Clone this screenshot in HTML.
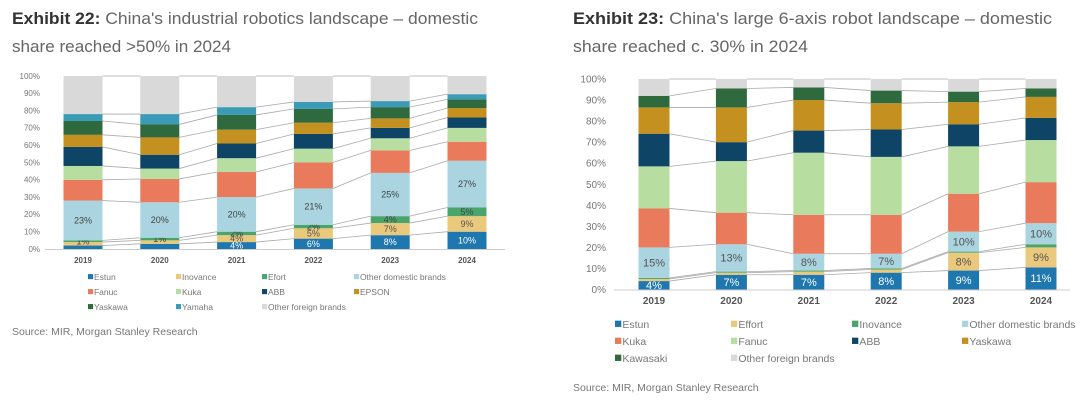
<!DOCTYPE html>
<html><head><meta charset="utf-8">
<style>
html,body{margin:0;padding:0;background:#fff;}
body{width:1080px;height:406px;overflow:hidden;font-family:"Liberation Sans",sans-serif;}
svg{position:absolute;left:0;top:0;}
</style></head>
<body>
<svg id="svg" width="1080" height="406" viewBox="0 0 1080 406">
  <text x="12" y="24" font-size="17" fill="#666" textLength="466" lengthAdjust="spacingAndGlyphs"><tspan font-weight="bold" fill="#333">Exhibit 22:</tspan>  China's industrial robotics landscape – domestic</text>
  <text x="12" y="52" font-size="17" fill="#666" textLength="219" lengthAdjust="spacingAndGlyphs">share reached &gt;50% in 2024</text>
  <text x="573" y="24" font-size="17" fill="#666" textLength="479" lengthAdjust="spacingAndGlyphs"><tspan font-weight="bold" fill="#333">Exhibit 23:</tspan>  China's large 6-axis robot landscape – domestic</text>
  <text x="573" y="52" font-size="17" fill="#666" textLength="235" lengthAdjust="spacingAndGlyphs">share reached c. 30% in 2024</text>
  <text x="12" y="335" font-size="10.5" fill="#777">Source: MIR, Morgan Stanley Research</text>
  <text x="573" y="391" font-size="10.5" fill="#777">Source: MIR, Morgan Stanley Research</text>
</svg>
<script>
// ---- Left chart data (Exhibit 22) ----
const leftYears = ["2019","2020","2021","2022","2023","2024"];
const leftSeriesNames = ["Estun","Inovance","Efort","Other domestic brands","Fanuc","Kuka","ABB","EPSON","Yaskawa","Yamaha","Other foreign brands"];
const leftEstun = [2,3,4,6,8,10];
const leftInovance = [2,2,4,6,7,9];
const leftEfort = [1,1.5,2,2,4,5];
const leftOtherDomestic = [23,20.5,20,21,25,27];
const leftFanuc = [12,13.5,14.5,15,13,11];
const leftKuka = [8,6,8,8,7,8];
const leftABB = [11,8,8.5,8.5,6,6];
const leftEpson = [7,10,8,6.5,5.5,5.5];
const leftYaskawa = [8,7.5,8.5,8,6.5,5];
const leftYamaha = [4,6,4.5,4,3.5,3];
const leftOtherForeign = [22,22,18,15,14.5,10.5];
const leftLabelEstun = ["","","4%","6%","8%","10%"];
const leftLabelInovance = ["","","4%","5%","7%","9%"];
const leftLabelEfort = ["1%","1%","2%","2%","4%","5%"];
const leftLabelOtherDomestic = ["23%","20%","20%","21%","25%","27%"];
const leftTicks = ["0%","10%","20%","30%","40%","50%","60%","70%","80%","90%","100%"];

// ---- Right chart data (Exhibit 23) ----
const rightYears = ["2019","2020","2021","2022","2023","2024"];
const rightSeriesNames = ["Estun","Effort","Inovance","Other domestic brands","Kuka","Fanuc","ABB","Yaskawa","Kawasaki","Other foreign brands"];
const rightEstun = [4,7,7,8,9,10.5];
const rightEffort = [1,1,1.5,1.5,8.5,9.5];
const rightInovance = [0.5,0.5,0.5,0.5,0.5,1.5];
const rightOtherDomestic = [14.5,13,8,7,9.5,10];
const rightKuka = [18.5,15,18.5,18.5,18,19.5];
const rightFanuc = [20,24.5,29.5,27.5,22.5,20];
const rightABB = [15.5,9,10.5,13,10.5,10.5];
const rightYaskawa = [12.5,16.5,14.5,12.5,10.5,10];
const rightKawasaki = [5.5,9,6,6,5,4];
const rightOtherForeign = [8,4.5,4,5.5,6,4.5];
const rightLabelEstun = ["4%","7%","7%","8%","9%","11%"];
const rightLabelEffort = ["","","","","8%","9%"];
const rightLabelOtherDomestic = ["15%","13%","8%","7%","10%","10%"];
const rightTicks = ["0%","10%","20%","30%","40%","50%","60%","70%","80%","90%","100%"];

const C = {blue:"#1f77b0",tan:"#eac87c",green:"#4aa56c",lb:"#a9d4e0",coral:"#e97a5c",lg:"#b7dea0",navy:"#0e4466",gold:"#c4901f",dg:"#2f6a3e",teal:"#3b9ab6",gray:"#d9d9d9"};
const NS="http://www.w3.org/2000/svg";
const svg=document.getElementById('svg');
function mk(tag,attrs,parent){const e=document.createElementNS(NS,tag);for(const k in attrs)e.setAttribute(k,attrs[k]);(parent||svg).appendChild(e);return e;}

function drawChart(cfg){
  const g=mk('g',{});
  
  
  const y=v=>cfg.y0-(v/100)*(cfg.y0-cfg.y100);
  const x=i=>cfg.xc0+i*cfg.step;
  cfg.ticks.forEach((t,i)=>{
    const tx=mk('text',{x:cfg.tickX,y:y(i*10)+cfg.fs*0.35,'font-size':cfg.fs,fill:'#777','text-anchor':'end'},g);
    tx.textContent=t;
    
    
  });
  const ax=mk('line',{x1:cfg.axX1,x2:cfg.axX2,y1:cfg.y0+0.5,y2:cfg.y0+0.5,stroke:'#ccc','stroke-width':1},g);
  
  
  const n=cfg.years.length;
  const cums=[];
  for(let i=0;i<n;i++){
    let c=0;const arr=[0];
    cfg.series.forEach(s=>{c+=s.values[i];arr.push(c);});
    cums.push(arr);
  }
  const nb=cfg.series.length;
  for(let k=1;k<nb;k++){
    for(let i=0;i<n-1;i++){
      const l=mk('line',{x1:x(i)+cfg.bw/2,x2:x(i+1)-cfg.bw/2,y1:y(cums[i][k]),y2:y(cums[i+1][k]),stroke:'#aaa','stroke-width':0.8},g);
      
      
    }
  }
  for(let i=0;i<n-1;i++){
    const l=mk('line',{x1:x(i)+cfg.bw/2,x2:x(i+1)-cfg.bw/2,y1:y(100),y2:y(100),stroke:'#aaa','stroke-width':0.8},g);
    
    
  }
  for(let i=0;i<n;i++){
    cfg.series.forEach((s,k)=>{
      const top=y(cums[i][k+1]),bot=y(cums[i][k]);
      const r=mk('rect',{x:x(i)-cfg.bw/2,y:top,width:cfg.bw,height:Math.max(0,bot-top),fill:s.color},g);
      
      
      if(s.labels&&s.labels[i]){
        const t=mk('text',{x:x(i),y:(top+bot)/2+cfg.fs*0.38,'font-size':cfg.fs+1,fill:s.lc,'text-anchor':'middle'},g);
        t.textContent=s.labels[i];
        
        
      }
    });
    const xl=mk('text',{x:x(i),y:cfg.xlY,'font-size':cfg.fs,'font-weight':'bold',fill:'#555','text-anchor':'middle'},g);
    xl.textContent=cfg.years[i];
    
    
  }
  cfg.series.forEach((s,k)=>{
    const lx=cfg.legX[k%4],ly=cfg.legY[Math.floor(k/4)];
    const sq=mk('rect',{x:lx,y:ly-cfg.lfs*0.7,width:cfg.lfs*0.6,height:cfg.lfs*0.6,fill:s.color},g);
    
    
    const t=mk('text',{x:lx+cfg.lfs*0.7,y:ly,'font-size':cfg.lfs,fill:'#777'},g);
    t.textContent=s.name;
    
    
  });
}

drawChart({name:'left-chart',years:leftYears,ticks:leftTicks,y0:249,y100:76,xc0:83,step:76.8,bw:39,tickX:40,axX1:45,axX2:505,fs:8,xlY:263,lfs:8.5,
  legX:[88,176,262,354],legY:[280,295,310],
  series:[
    {key:'estun',name:leftSeriesNames[0],values:leftEstun,color:C.blue,labels:leftLabelEstun,lc:'#fff'},
    {key:'inovance',name:leftSeriesNames[1],values:leftInovance,color:C.tan,labels:leftLabelInovance,lc:'#555'},
    {key:'efort',name:leftSeriesNames[2],values:leftEfort,color:C.green,labels:leftLabelEfort,lc:'#444'},
    {key:'other-domestic',name:leftSeriesNames[3],values:leftOtherDomestic,color:C.lb,labels:leftLabelOtherDomestic,lc:'#444'},
    {key:'fanuc',name:leftSeriesNames[4],values:leftFanuc,color:C.coral},
    {key:'kuka',name:leftSeriesNames[5],values:leftKuka,color:C.lg},
    {key:'abb',name:leftSeriesNames[6],values:leftABB,color:C.navy},
    {key:'epson',name:leftSeriesNames[7],values:leftEpson,color:C.gold},
    {key:'yaskawa',name:leftSeriesNames[8],values:leftYaskawa,color:C.dg},
    {key:'yamaha',name:leftSeriesNames[9],values:leftYamaha,color:C.teal},
    {key:'other-foreign',name:leftSeriesNames[10],values:leftOtherForeign,color:C.gray}
  ]});

drawChart({name:'right-chart',years:rightYears,ticks:rightTicks,y0:289.5,y100:79,xc0:654,step:77.4,bw:31,tickX:606,axX1:614,axX2:1070,fs:10,xlY:304,lfs:10.5,
  legX:[615,731,852,962],legY:[328,345,362],
  series:[
    {key:'estun',name:rightSeriesNames[0],values:rightEstun,color:C.blue,labels:rightLabelEstun,lc:'#fff'},
    {key:'effort',name:rightSeriesNames[1],values:rightEffort,color:C.tan,labels:rightLabelEffort,lc:'#555'},
    {key:'inovance',name:rightSeriesNames[2],values:rightInovance,color:C.green},
    {key:'other-domestic',name:rightSeriesNames[3],values:rightOtherDomestic,color:C.lb,labels:rightLabelOtherDomestic,lc:'#555'},
    {key:'kuka',name:rightSeriesNames[4],values:rightKuka,color:C.coral},
    {key:'fanuc',name:rightSeriesNames[5],values:rightFanuc,color:C.lg},
    {key:'abb',name:rightSeriesNames[6],values:rightABB,color:C.navy},
    {key:'yaskawa',name:rightSeriesNames[7],values:rightYaskawa,color:C.gold},
    {key:'kawasaki',name:rightSeriesNames[8],values:rightKawasaki,color:C.dg},
    {key:'other-foreign',name:rightSeriesNames[9],values:rightOtherForeign,color:C.gray}
  ]});
</script>
</body></html>
